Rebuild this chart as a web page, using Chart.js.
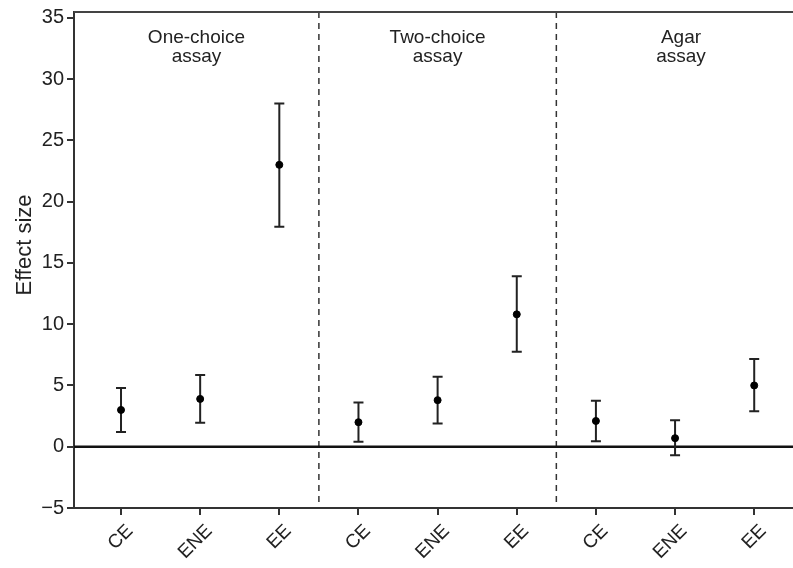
<!DOCTYPE html>
<html>
<head>
<meta charset="utf-8">
<script src="https://cdn.jsdelivr.net/npm/chart.js@4"></script>
<style>
  html, body { margin: 0; padding: 0; background: #fff; }
  #wrap { width: 793px; height: 568px; }
</style>
</head>
<body>
<div id="wrap"><canvas id="chart"></canvas></div>
<script>
// categories along x, three per assay
const categories = ['CE', 'ENE', 'EE', 'CE', 'ENE', 'EE', 'CE', 'ENE', 'EE'];
// effect size and the ends of its error bar
const effect = [3.0, 3.9, 23.0, 2.0, 3.8, 10.8, 2.1, 0.7, 5.0];
const lower = [1.2, 1.95, 17.95, 0.4, 1.9, 7.75, 0.45, -0.7, 2.9];
const upper = [4.8, 5.85, 28.0, 3.6, 5.7, 13.9, 3.75, 2.15, 7.15];
// assay panels
const panels = [['One-choice', 'assay'], ['Two-choice', 'assay'], ['Agar', 'assay']];
const yTicks = [-5, 0, 5, 10, 15, 20, 25, 30, 35];

const FONT = '"Liberation Sans", Arial, sans-serif';
const INK = '#222';

const points = effect.map((v, i) => ({ x: i, y: v }));

const decorPlugin = {
    id: 'decor',
    beforeDatasetsDraw(chart) {
        const ctx = chart.ctx;
        const xs = chart.scales.x;
        const ys = chart.scales.y;
        const area = chart.chartArea;
        ctx.save();

        // dashed separators between assays
        const seps = [];
        ctx.strokeStyle = '#333';
        ctx.lineWidth = 1.5;
        ctx.setLineDash([6, 5]);
        for (let k = 1; k < panels.length; k++) {
            const px = xs.getPixelForValue(k * 3 - 0.5);
            seps.push(px);
            ctx.beginPath();
            ctx.moveTo(px, area.top);
            ctx.lineTo(px, area.bottom);
            ctx.stroke();
        }
        ctx.setLineDash([]);

        // zero line
        const y0 = ys.getPixelForValue(0);
        ctx.strokeStyle = '#111';
        ctx.lineWidth = 2.5;
        ctx.beginPath();
        ctx.moveTo(area.left, y0);
        ctx.lineTo(area.right, y0);
        ctx.stroke();

        // top border
        ctx.strokeStyle = '#444';
        ctx.lineWidth = 2;
        ctx.beginPath();
        ctx.moveTo(area.left, area.top);
        ctx.lineTo(area.right, area.top);
        ctx.stroke();

        // error bars
        ctx.strokeStyle = INK;
        ctx.lineWidth = 2;
        for (let i = 0; i < effect.length; i++) {
            const px = xs.getPixelForValue(i);
            const pLo = ys.getPixelForValue(lower[i]);
            const pHi = ys.getPixelForValue(upper[i]);
            ctx.beginPath();
            ctx.moveTo(px, pLo);
            ctx.lineTo(px, pHi);
            ctx.moveTo(px - 5, pLo);
            ctx.lineTo(px + 5, pLo);
            ctx.moveTo(px - 5, pHi);
            ctx.lineTo(px + 5, pHi);
            ctx.stroke();
        }

        // panel labels (plot runs on past the right edge of the picture)
        ctx.fillStyle = INK;
        ctx.font = '19px ' + FONT;
        ctx.textAlign = 'center';
        ctx.textBaseline = 'alphabetic';
        const edges = [area.left, ...seps, xs.getPixelForValue(8.65)];
        panels.forEach((lines, k) => {
            const cx = (edges[k] + edges[k + 1]) / 2;
            lines.forEach((t, j) => ctx.fillText(t, cx, 43 + j * 19));
        });

        // rotated category labels
        ctx.font = '19px ' + FONT;
        ctx.textAlign = 'right';
        ctx.textBaseline = 'middle';
        categories.forEach((c, i) => {
            ctx.save();
            ctx.translate(xs.getPixelForValue(i) + 9, area.bottom + 20);
            ctx.rotate(-Math.PI / 4);
            ctx.fillText(c, 0, 0);
            ctx.restore();
        });

        // y axis title
        ctx.save();
        ctx.font = '22px ' + FONT;
        ctx.textAlign = 'center';
        ctx.textBaseline = 'alphabetic';
        ctx.translate(31, 245);
        ctx.rotate(-Math.PI / 2);
        ctx.fillText('Effect size', 0, 0);
        ctx.restore();

        ctx.restore();
    }
};

new Chart(document.getElementById('chart'), {
    type: 'scatter',
    data: {
        datasets: [{
            data: points,
            backgroundColor: '#000',
            borderColor: '#000',
            pointRadius: 3.5,
            pointHoverRadius: 3.5
        }]
    },
    options: {
        responsive: true,
        maintainAspectRatio: false,
        animation: false,
        layout: { autoPadding: false, padding: { top: 12, right: 0, left: 0, bottom: 0 } },
        plugins: { legend: { display: false }, tooltip: { enabled: false } },
        scales: {
            x: {
                type: 'linear',
                min: -0.594,
                max: 8.49,
                afterBuildTicks: (s) => { s.ticks = categories.map((c, i) => ({ value: i })); },
                afterFit: (s) => { s.height = 60; s.paddingLeft = 0; s.paddingRight = 0; },
                border: { display: true, color: '#333', width: 2 },
                grid: { drawOnChartArea: false, drawTicks: true, tickLength: 7, color: '#333', lineWidth: 2 },
                ticks: { display: false }
            },
            y: {
                min: -5,
                max: 35.47,
                afterBuildTicks: (s) => { s.ticks = yTicks.map(v => ({ value: v })); },
                afterFit: (s) => { s.width = 74; s.paddingTop = 0; s.paddingBottom = 0; },
                border: { display: true, color: '#333', width: 2 },
                grid: { drawOnChartArea: false, drawTicks: true, tickLength: 7, color: '#333', lineWidth: 2 },
                ticks: {
                    color: INK,
                    font: { family: FONT, size: 20 },
                    padding: 3,
                    callback: (v) => (v < 0 ? '\u2212' + Math.abs(v) : String(v))
                }
            }
        }
    },
    plugins: [decorPlugin]
});
</script>
</body>
</html>
